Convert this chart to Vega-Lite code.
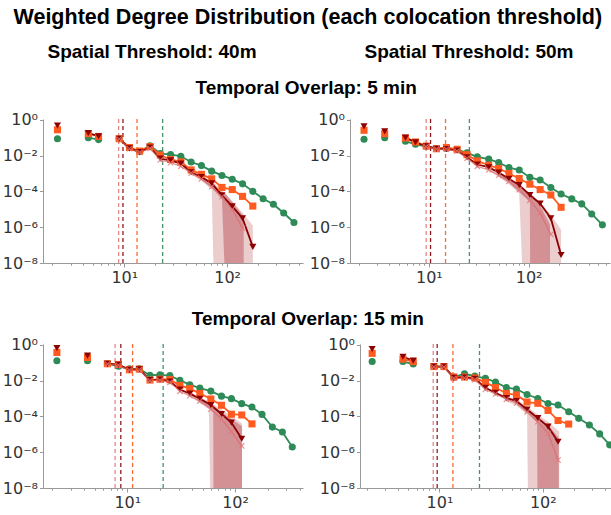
{
"$schema": "https://vega.github.io/schema/vega-lite/v6.json",
"padding": {"left": 2, "top": 6, "right": 0, "bottom": 0},
"title": {"text": "Weighted Degree Distribution (each colocation threshold)", "font": "Liberation Sans", "fontSize": 21.5, "fontWeight": "bold", "color": "#000", "anchor": "middle", "offset": 12},
"config": {
  "view": {"stroke": null},
  "axis": {"labelFont": "DejaVu Sans", "labelFontSize": 16, "labelColor": "#333", "domainColor": "#999", "tickColor": "#999", "grid": false, "labelPadding": 2},
  "title": {"font": "Liberation Sans", "fontSize": 19, "fontWeight": "bold", "color": "#000"}
},
"datasets": {
"pts": [
{"sp":40,"tp":5,"s":"1","x":2.24,"y":0.087},{"sp":40,"tp":5,"s":"1","x":3.55,"y":null},{"sp":40,"tp":5,"s":"1","x":4.47,"y":0.1},{"sp":40,"tp":5,"s":"1","x":5.62,"y":0.0776},{"sp":40,"tp":5,"s":"1","x":7.08,"y":null},{"sp":40,"tp":5,"s":"1","x":8.91,"y":0.087},{"sp":40,"tp":5,"s":"1","x":11.22,"y":0.0282},{"sp":40,"tp":5,"s":"1","x":14.13,"y":0.0166},{"sp":40,"tp":5,"s":"1","x":17.78,"y":0.0355},{"sp":40,"tp":5,"s":"1","x":22.39,"y":0.0129},{"sp":40,"tp":5,"s":"1","x":28.18,"y":0.0115},{"sp":40,"tp":5,"s":"1","x":35.48,"y":0.00912},{"sp":40,"tp":5,"s":"1","x":44.67,"y":0.00437},{"sp":40,"tp":5,"s":"1","x":56.23,"y":0.00275},{"sp":40,"tp":5,"s":"1","x":70.79,"y":0.00135},{"sp":40,"tp":5,"s":"1","x":89.13,"y":0.000776},{"sp":40,"tp":5,"s":"1","x":112.2,"y":0.000479},{"sp":40,"tp":5,"s":"1","x":141.3,"y":0.000263},{"sp":40,"tp":5,"s":"1","x":177.8,"y":0.0001},{"sp":40,"tp":5,"s":"1","x":223.9,"y":3.89e-5},{"sp":40,"tp":5,"s":"1","x":281.8,"y":1.91e-5},{"sp":40,"tp":5,"s":"1","x":354.8,"y":6.17e-6},{"sp":40,"tp":5,"s":"1","x":446.7,"y":1.82e-6},
{"sp":40,"tp":5,"s":"2","x":2.24,"y":0.275},{"sp":40,"tp":5,"s":"2","x":3.55,"y":null},{"sp":40,"tp":5,"s":"2","x":4.47,"y":0.166},{"sp":40,"tp":5,"s":"2","x":5.62,"y":0.117},{"sp":40,"tp":5,"s":"2","x":7.08,"y":null},{"sp":40,"tp":5,"s":"2","x":8.91,"y":0.087},{"sp":40,"tp":5,"s":"2","x":11.22,"y":0.0282},{"sp":40,"tp":5,"s":"2","x":14.13,"y":0.0178},{"sp":40,"tp":5,"s":"2","x":17.78,"y":0.0316},{"sp":40,"tp":5,"s":"2","x":22.39,"y":0.0107},{"sp":40,"tp":5,"s":"2","x":28.18,"y":0.00603},{"sp":40,"tp":5,"s":"2","x":35.48,"y":0.00447},{"sp":40,"tp":5,"s":"2","x":44.67,"y":0.00158},{"sp":40,"tp":5,"s":"2","x":56.23,"y":0.000891},{"sp":40,"tp":5,"s":"2","x":70.79,"y":0.000501},{"sp":40,"tp":5,"s":"2","x":89.13,"y":0.000166},{"sp":40,"tp":5,"s":"2","x":112.2,"y":0.000126},{"sp":40,"tp":5,"s":"2","x":141.3,"y":5.25e-5},{"sp":40,"tp":5,"s":"2","x":177.8,"y":1.51e-5},
{"sp":40,"tp":5,"s":"3","x":2.24,"y":0.479},{"sp":40,"tp":5,"s":"3","x":3.55,"y":null},{"sp":40,"tp":5,"s":"3","x":4.47,"y":0.182},{"sp":40,"tp":5,"s":"3","x":5.62,"y":0.12},{"sp":40,"tp":5,"s":"3","x":7.08,"y":null},{"sp":40,"tp":5,"s":"3","x":8.91,"y":0.087},{"sp":40,"tp":5,"s":"3","x":11.22,"y":0.0251},{"sp":40,"tp":5,"s":"3","x":14.13,"y":0.0158},{"sp":40,"tp":5,"s":"3","x":17.78,"y":0.0282},{"sp":40,"tp":5,"s":"3","x":22.39,"y":0.00676},{"sp":40,"tp":5,"s":"3","x":28.18,"y":0.00537},{"sp":40,"tp":5,"s":"3","x":35.48,"y":0.00355},{"sp":40,"tp":5,"s":"3","x":44.67,"y":0.00117},{"sp":40,"tp":5,"s":"3","x":56.23,"y":0.000631},{"sp":40,"tp":5,"s":"3","x":70.79,"y":0.000282},{"sp":40,"tp":5,"s":"3","x":89.13,"y":6.03e-5},{"sp":40,"tp":5,"s":"3","x":112.2,"y":1.45e-5},{"sp":40,"tp":5,"s":"3","x":141.3,"y":3.16e-6},{"sp":40,"tp":5,"s":"3","x":177.8,"y":7.94e-8},
{"sp":40,"tp":5,"s":"4","x":8.91,"y":0.0832},{"sp":40,"tp":5,"s":"4","x":11.22,"y":0.024},{"sp":40,"tp":5,"s":"4","x":14.13,"y":0.0151},{"sp":40,"tp":5,"s":"4","x":17.78,"y":0.0251},{"sp":40,"tp":5,"s":"4","x":22.39,"y":0.00562},{"sp":40,"tp":5,"s":"4","x":28.18,"y":0.00398},{"sp":40,"tp":5,"s":"4","x":35.48,"y":0.00251},{"sp":40,"tp":5,"s":"4","x":44.67,"y":0.00105},{"sp":40,"tp":5,"s":"4","x":56.23,"y":0.000501},{"sp":40,"tp":5,"s":"4","x":70.79,"y":0.000178},{"sp":40,"tp":5,"s":"4","x":89.13,"y":5.01e-5},{"sp":40,"tp":5,"s":"4","x":112.2,"y":1e-5},{"sp":40,"tp":5,"s":"4","x":141.3,"y":8.91e-7},

{"sp":50,"tp":5,"s":"1","x":2.24,"y":0.0813},{"sp":50,"tp":5,"s":"1","x":2.85,"y":null},{"sp":50,"tp":5,"s":"1","x":3.61,"y":0.1},{"sp":50,"tp":5,"s":"1","x":4.6,"y":null},{"sp":50,"tp":5,"s":"1","x":5.83,"y":0.0631},{"sp":50,"tp":5,"s":"1","x":7.35,"y":0.0427},{"sp":50,"tp":5,"s":"1","x":9.4,"y":0.0331},{"sp":50,"tp":5,"s":"1","x":11.91,"y":0.0245},{"sp":50,"tp":5,"s":"1","x":15.0,"y":0.0245},{"sp":50,"tp":5,"s":"1","x":19.19,"y":0.0214},{"sp":50,"tp":5,"s":"1","x":24.15,"y":0.0141},{"sp":50,"tp":5,"s":"1","x":30.62,"y":0.00851},{"sp":50,"tp":5,"s":"1","x":39.81,"y":0.00631},{"sp":50,"tp":5,"s":"1","x":50.12,"y":0.00407},{"sp":50,"tp":5,"s":"1","x":63.53,"y":0.00214},{"sp":50,"tp":5,"s":"1","x":80.54,"y":0.00155},{"sp":50,"tp":5,"s":"1","x":103.0,"y":0.000603},{"sp":50,"tp":5,"s":"1","x":130.6,"y":0.000427},{"sp":50,"tp":5,"s":"1","x":167.1,"y":0.000166},{"sp":50,"tp":5,"s":"1","x":211.8,"y":7.08e-5},{"sp":50,"tp":5,"s":"1","x":271.0,"y":3.8e-5},{"sp":50,"tp":5,"s":"1","x":341.2,"y":2e-5},{"sp":50,"tp":5,"s":"1","x":429.5,"y":5.5e-6},{"sp":50,"tp":5,"s":"1","x":549.5,"y":1.35e-6},
{"sp":50,"tp":5,"s":"2","x":2.24,"y":0.257},{"sp":50,"tp":5,"s":"2","x":2.85,"y":null},{"sp":50,"tp":5,"s":"2","x":3.61,"y":0.166},{"sp":50,"tp":5,"s":"2","x":4.6,"y":null},{"sp":50,"tp":5,"s":"2","x":5.83,"y":0.0955},{"sp":50,"tp":5,"s":"2","x":7.35,"y":0.0575},{"sp":50,"tp":5,"s":"2","x":9.4,"y":0.0339},{"sp":50,"tp":5,"s":"2","x":11.91,"y":0.024},{"sp":50,"tp":5,"s":"2","x":15.0,"y":0.0282},{"sp":50,"tp":5,"s":"2","x":19.19,"y":0.0224},{"sp":50,"tp":5,"s":"2","x":24.15,"y":0.0112},{"sp":50,"tp":5,"s":"2","x":30.62,"y":0.00501},{"sp":50,"tp":5,"s":"2","x":39.81,"y":0.00288},{"sp":50,"tp":5,"s":"2","x":50.12,"y":0.00191},{"sp":50,"tp":5,"s":"2","x":63.53,"y":0.001},{"sp":50,"tp":5,"s":"2","x":80.54,"y":0.000525},{"sp":50,"tp":5,"s":"2","x":103.0,"y":0.000251},{"sp":50,"tp":5,"s":"2","x":130.6,"y":0.000126},{"sp":50,"tp":5,"s":"2","x":167.1,"y":6.31e-5},{"sp":50,"tp":5,"s":"2","x":211.8,"y":1.29e-5},
{"sp":50,"tp":5,"s":"3","x":2.24,"y":0.427},{"sp":50,"tp":5,"s":"3","x":2.85,"y":null},{"sp":50,"tp":5,"s":"3","x":3.61,"y":0.224},{"sp":50,"tp":5,"s":"3","x":4.6,"y":null},{"sp":50,"tp":5,"s":"3","x":5.83,"y":0.1},{"sp":50,"tp":5,"s":"3","x":7.35,"y":0.055},{"sp":50,"tp":5,"s":"3","x":9.4,"y":0.0331},{"sp":50,"tp":5,"s":"3","x":11.91,"y":0.024},{"sp":50,"tp":5,"s":"3","x":15.0,"y":0.0234},{"sp":50,"tp":5,"s":"3","x":19.19,"y":0.0191},{"sp":50,"tp":5,"s":"3","x":24.15,"y":0.00794},{"sp":50,"tp":5,"s":"3","x":30.62,"y":0.00316},{"sp":50,"tp":5,"s":"3","x":39.81,"y":0.00224},{"sp":50,"tp":5,"s":"3","x":50.12,"y":0.00112},{"sp":50,"tp":5,"s":"3","x":63.53,"y":0.000501},{"sp":50,"tp":5,"s":"3","x":80.54,"y":0.000224},{"sp":50,"tp":5,"s":"3","x":103.0,"y":6.31e-5},{"sp":50,"tp":5,"s":"3","x":130.6,"y":2.09e-5},{"sp":50,"tp":5,"s":"3","x":167.1,"y":3.16e-6},{"sp":50,"tp":5,"s":"3","x":211.8,"y":2.82e-8},
{"sp":50,"tp":5,"s":"4","x":9.4,"y":0.0316},{"sp":50,"tp":5,"s":"4","x":11.91,"y":0.0229},{"sp":50,"tp":5,"s":"4","x":15.0,"y":0.0224},{"sp":50,"tp":5,"s":"4","x":19.19,"y":0.0178},{"sp":50,"tp":5,"s":"4","x":24.15,"y":0.00708},{"sp":50,"tp":5,"s":"4","x":30.62,"y":0.00251},{"sp":50,"tp":5,"s":"4","x":39.81,"y":0.00158},{"sp":50,"tp":5,"s":"4","x":50.12,"y":0.000794},{"sp":50,"tp":5,"s":"4","x":63.53,"y":0.000355},{"sp":50,"tp":5,"s":"4","x":80.54,"y":0.000126},{"sp":50,"tp":5,"s":"4","x":103.0,"y":3.16e-5},{"sp":50,"tp":5,"s":"4","x":130.6,"y":6.31e-6},{"sp":50,"tp":5,"s":"4","x":167.1,"y":3.98e-7},

{"sp":40,"tp":15,"s":"1","x":2.22,"y":0.129},{"sp":40,"tp":15,"s":"1","x":3.0,"y":null},{"sp":40,"tp":15,"s":"1","x":4.27,"y":0.129},{"sp":40,"tp":15,"s":"1","x":5.3,"y":null},{"sp":40,"tp":15,"s":"1","x":6.53,"y":0.087},{"sp":40,"tp":15,"s":"1","x":8.26,"y":0.0631},{"sp":40,"tp":15,"s":"1","x":10.45,"y":0.0447},{"sp":40,"tp":15,"s":"1","x":12.91,"y":0.0447},{"sp":40,"tp":15,"s":"1","x":16.22,"y":0.02},{"sp":40,"tp":15,"s":"1","x":20.09,"y":0.0209},{"sp":40,"tp":15,"s":"1","x":24.83,"y":0.0191},{"sp":40,"tp":15,"s":"1","x":30.76,"y":0.0102},{"sp":40,"tp":15,"s":"1","x":38.02,"y":0.00589},{"sp":40,"tp":15,"s":"1","x":47.1,"y":0.0038},{"sp":40,"tp":15,"s":"1","x":59.57,"y":0.00257},{"sp":40,"tp":15,"s":"1","x":74.82,"y":0.00135},{"sp":40,"tp":15,"s":"1","x":92.47,"y":0.000977},{"sp":40,"tp":15,"s":"1","x":115.3,"y":0.000513},{"sp":40,"tp":15,"s":"1","x":143.5,"y":0.000331},{"sp":40,"tp":15,"s":"1","x":177.8,"y":0.000129},{"sp":40,"tp":15,"s":"1","x":221.8,"y":2.51e-5},{"sp":40,"tp":15,"s":"1","x":274.8,"y":1.35e-5},{"sp":40,"tp":15,"s":"1","x":339.6,"y":1.95e-6},
{"sp":40,"tp":15,"s":"2","x":2.22,"y":0.372},{"sp":40,"tp":15,"s":"2","x":3.0,"y":null},{"sp":40,"tp":15,"s":"2","x":4.27,"y":0.195},{"sp":40,"tp":15,"s":"2","x":5.3,"y":null},{"sp":40,"tp":15,"s":"2","x":6.53,"y":0.087},{"sp":40,"tp":15,"s":"2","x":8.26,"y":0.0794},{"sp":40,"tp":15,"s":"2","x":10.45,"y":0.0398},{"sp":40,"tp":15,"s":"2","x":12.91,"y":0.0437},{"sp":40,"tp":15,"s":"2","x":16.22,"y":0.0107},{"sp":40,"tp":15,"s":"2","x":20.09,"y":0.012},{"sp":40,"tp":15,"s":"2","x":24.83,"y":0.0112},{"sp":40,"tp":15,"s":"2","x":30.76,"y":0.00537},{"sp":40,"tp":15,"s":"2","x":38.02,"y":0.00355},{"sp":40,"tp":15,"s":"2","x":47.1,"y":0.00191},{"sp":40,"tp":15,"s":"2","x":59.57,"y":0.000933},{"sp":40,"tp":15,"s":"2","x":74.82,"y":0.000417},{"sp":40,"tp":15,"s":"2","x":92.47,"y":0.000132},{"sp":40,"tp":15,"s":"2","x":115.3,"y":0.00012},{"sp":40,"tp":15,"s":"2","x":143.5,"y":3.8e-5},
{"sp":40,"tp":15,"s":"3","x":2.22,"y":0.646},{"sp":40,"tp":15,"s":"3","x":3.0,"y":null},{"sp":40,"tp":15,"s":"3","x":4.27,"y":0.245},{"sp":40,"tp":15,"s":"3","x":5.3,"y":null},{"sp":40,"tp":15,"s":"3","x":6.53,"y":0.087},{"sp":40,"tp":15,"s":"3","x":8.26,"y":0.0759},{"sp":40,"tp":15,"s":"3","x":10.45,"y":0.0398},{"sp":40,"tp":15,"s":"3","x":12.91,"y":0.0427},{"sp":40,"tp":15,"s":"3","x":16.22,"y":0.0105},{"sp":40,"tp":15,"s":"3","x":20.09,"y":0.0112},{"sp":40,"tp":15,"s":"3","x":24.83,"y":0.00891},{"sp":40,"tp":15,"s":"3","x":30.76,"y":0.00316},{"sp":40,"tp":15,"s":"3","x":38.02,"y":0.00186},{"sp":40,"tp":15,"s":"3","x":47.1,"y":0.000955},{"sp":40,"tp":15,"s":"3","x":59.57,"y":0.000427},{"sp":40,"tp":15,"s":"3","x":74.82,"y":0.000135},{"sp":40,"tp":15,"s":"3","x":92.47,"y":4.47e-5},{"sp":40,"tp":15,"s":"3","x":115.3,"y":5.62e-6},
{"sp":40,"tp":15,"s":"4","x":6.53,"y":0.0832},{"sp":40,"tp":15,"s":"4","x":8.26,"y":0.0708},{"sp":40,"tp":15,"s":"4","x":10.45,"y":0.038},{"sp":40,"tp":15,"s":"4","x":12.91,"y":0.0398},{"sp":40,"tp":15,"s":"4","x":16.22,"y":0.01},{"sp":40,"tp":15,"s":"4","x":20.09,"y":0.0105},{"sp":40,"tp":15,"s":"4","x":24.83,"y":0.00794},{"sp":40,"tp":15,"s":"4","x":30.76,"y":0.00251},{"sp":40,"tp":15,"s":"4","x":38.02,"y":0.00141},{"sp":40,"tp":15,"s":"4","x":47.1,"y":0.000708},{"sp":40,"tp":15,"s":"4","x":59.57,"y":0.000251},{"sp":40,"tp":15,"s":"4","x":74.82,"y":7.08e-5},{"sp":40,"tp":15,"s":"4","x":92.47,"y":1.41e-5},{"sp":40,"tp":15,"s":"4","x":115.3,"y":2.24e-6},

{"sp":50,"tp":15,"s":"1","x":2.23,"y":0.115},{"sp":50,"tp":15,"s":"1","x":3.1,"y":null},{"sp":50,"tp":15,"s":"1","x":4.43,"y":0.115},{"sp":50,"tp":15,"s":"1","x":5.57,"y":0.0832},{"sp":50,"tp":15,"s":"1","x":7.0,"y":null},{"sp":50,"tp":15,"s":"1","x":8.83,"y":0.0603},{"sp":50,"tp":15,"s":"1","x":11.04,"y":0.0603},{"sp":50,"tp":15,"s":"1","x":13.77,"y":0.0158},{"sp":50,"tp":15,"s":"1","x":17.46,"y":0.024},{"sp":50,"tp":15,"s":"1","x":21.98,"y":0.0178},{"sp":50,"tp":15,"s":"1","x":27.86,"y":0.0132},{"sp":50,"tp":15,"s":"1","x":34.83,"y":0.00832},{"sp":50,"tp":15,"s":"1","x":44.46,"y":0.00407},{"sp":50,"tp":15,"s":"1","x":55.59,"y":0.00331},{"sp":50,"tp":15,"s":"1","x":70.47,"y":0.00166},{"sp":50,"tp":15,"s":"1","x":89.54,"y":0.001},{"sp":50,"tp":15,"s":"1","x":112.5,"y":0.000525},{"sp":50,"tp":15,"s":"1","x":140.6,"y":0.000427},{"sp":50,"tp":15,"s":"1","x":178.2,"y":0.000182},{"sp":50,"tp":15,"s":"1","x":222.8,"y":7.76e-5},{"sp":50,"tp":15,"s":"1","x":282.5,"y":3.31e-5},{"sp":50,"tp":15,"s":"1","x":355.6,"y":1.05e-5},{"sp":50,"tp":15,"s":"1","x":444.6,"y":2.57e-6},
{"sp":50,"tp":15,"s":"2","x":2.23,"y":0.331},{"sp":50,"tp":15,"s":"2","x":3.1,"y":null},{"sp":50,"tp":15,"s":"2","x":4.43,"y":0.158},{"sp":50,"tp":15,"s":"2","x":5.57,"y":0.115},{"sp":50,"tp":15,"s":"2","x":7.0,"y":null},{"sp":50,"tp":15,"s":"2","x":8.83,"y":0.0603},{"sp":50,"tp":15,"s":"2","x":11.04,"y":0.0603},{"sp":50,"tp":15,"s":"2","x":13.77,"y":0.0158},{"sp":50,"tp":15,"s":"2","x":17.46,"y":0.0158},{"sp":50,"tp":15,"s":"2","x":21.98,"y":0.0141},{"sp":50,"tp":15,"s":"2","x":27.86,"y":0.00794},{"sp":50,"tp":15,"s":"2","x":34.83,"y":0.00407},{"sp":50,"tp":15,"s":"2","x":44.46,"y":0.00191},{"sp":50,"tp":15,"s":"2","x":55.59,"y":0.00158},{"sp":50,"tp":15,"s":"2","x":70.47,"y":0.000631},{"sp":50,"tp":15,"s":"2","x":89.54,"y":0.000537},{"sp":50,"tp":15,"s":"2","x":112.5,"y":0.000214},{"sp":50,"tp":15,"s":"2","x":140.6,"y":5.89e-5},{"sp":50,"tp":15,"s":"2","x":178.2,"y":3.72e-5},
{"sp":50,"tp":15,"s":"3","x":2.23,"y":0.575},{"sp":50,"tp":15,"s":"3","x":3.1,"y":null},{"sp":50,"tp":15,"s":"3","x":4.43,"y":0.214},{"sp":50,"tp":15,"s":"3","x":5.57,"y":0.129},{"sp":50,"tp":15,"s":"3","x":7.0,"y":null},{"sp":50,"tp":15,"s":"3","x":8.83,"y":0.0603},{"sp":50,"tp":15,"s":"3","x":11.04,"y":0.0603},{"sp":50,"tp":15,"s":"3","x":13.77,"y":0.0141},{"sp":50,"tp":15,"s":"3","x":17.46,"y":0.0148},{"sp":50,"tp":15,"s":"3","x":21.98,"y":0.0126},{"sp":50,"tp":15,"s":"3","x":27.86,"y":0.00398},{"sp":50,"tp":15,"s":"3","x":34.83,"y":0.00209},{"sp":50,"tp":15,"s":"3","x":44.46,"y":0.00105},{"sp":50,"tp":15,"s":"3","x":55.59,"y":0.000724},{"sp":50,"tp":15,"s":"3","x":70.47,"y":0.00024},{"sp":50,"tp":15,"s":"3","x":89.54,"y":7.94e-5},{"sp":50,"tp":15,"s":"3","x":112.5,"y":2.69e-5},{"sp":50,"tp":15,"s":"3","x":140.6,"y":3.8e-6},
{"sp":50,"tp":15,"s":"4","x":8.83,"y":0.0575},{"sp":50,"tp":15,"s":"4","x":11.04,"y":0.0575},{"sp":50,"tp":15,"s":"4","x":13.77,"y":0.0132},{"sp":50,"tp":15,"s":"4","x":17.46,"y":0.0138},{"sp":50,"tp":15,"s":"4","x":21.98,"y":0.0112},{"sp":50,"tp":15,"s":"4","x":27.86,"y":0.00316},{"sp":50,"tp":15,"s":"4","x":34.83,"y":0.00178},{"sp":50,"tp":15,"s":"4","x":44.46,"y":0.000891},{"sp":50,"tp":15,"s":"4","x":55.59,"y":0.000562},{"sp":50,"tp":15,"s":"4","x":70.47,"y":0.000178},{"sp":50,"tp":15,"s":"4","x":89.54,"y":5.01e-5},{"sp":50,"tp":15,"s":"4","x":112.5,"y":1.12e-5},{"sp":50,"tp":15,"s":"4","x":140.6,"y":3.63e-7}
],
"bands": [
{"sp":40,"tp":5,"b":"outer","x":44.67,"lo":0.000891,"hi":0.00141},{"sp":40,"tp":5,"b":"outer","x":56.23,"lo":0.000398,"hi":0.000759},{"sp":40,"tp":5,"b":"outer","x":70.79,"lo":0.000126,"hi":0.000355},{"sp":40,"tp":5,"b":"outer","x":75,"lo":1e-10,"hi":0.000282},{"sp":40,"tp":5,"b":"outer","x":89.13,"lo":1e-10,"hi":0.000117},{"sp":40,"tp":5,"b":"outer","x":112.2,"lo":1e-10,"hi":2.82e-5},{"sp":40,"tp":5,"b":"outer","x":141.3,"lo":1e-10,"hi":6.31e-6},{"sp":40,"tp":5,"b":"outer","x":177.8,"lo":1e-10,"hi":1.26e-6},
{"sp":40,"tp":5,"b":"inner","x":56.23,"lo":0.000447,"hi":0.000631},{"sp":40,"tp":5,"b":"inner","x":70.79,"lo":0.000158,"hi":0.000282},{"sp":40,"tp":5,"b":"inner","x":89.13,"lo":3.55e-5,"hi":8.91e-5},{"sp":40,"tp":5,"b":"inner","x":97,"lo":1e-10,"hi":7.08e-5},{"sp":40,"tp":5,"b":"inner","x":112.2,"lo":1e-10,"hi":2.51e-5},{"sp":40,"tp":5,"b":"inner","x":145,"lo":1e-10,"hi":3.98e-6},
{"sp":50,"tp":5,"b":"outer","x":39.81,"lo":0.00141,"hi":0.00251},{"sp":50,"tp":5,"b":"outer","x":50.12,"lo":0.000631,"hi":0.00126},{"sp":50,"tp":5,"b":"outer","x":63.53,"lo":0.000251,"hi":0.000562},{"sp":50,"tp":5,"b":"outer","x":80.54,"lo":7.94e-5,"hi":0.000251},{"sp":50,"tp":5,"b":"outer","x":89,"lo":1e-10,"hi":0.000141},{"sp":50,"tp":5,"b":"outer","x":103.0,"lo":1e-10,"hi":7.94e-5},{"sp":50,"tp":5,"b":"outer","x":130.6,"lo":1e-10,"hi":2.51e-5},{"sp":50,"tp":5,"b":"outer","x":167.1,"lo":1e-10,"hi":5.01e-6},{"sp":50,"tp":5,"b":"outer","x":211.8,"lo":1e-10,"hi":7.08e-7},
{"sp":50,"tp":5,"b":"inner","x":50.12,"lo":0.000708,"hi":0.00112},{"sp":50,"tp":5,"b":"inner","x":63.53,"lo":0.000316,"hi":0.000501},{"sp":50,"tp":5,"b":"inner","x":80.54,"lo":8.91e-5,"hi":0.0002},{"sp":50,"tp":5,"b":"inner","x":103.0,"lo":2.51e-5,"hi":7.94e-5},{"sp":50,"tp":5,"b":"inner","x":104,"lo":1e-10,"hi":7.59e-5},{"sp":50,"tp":5,"b":"inner","x":130.6,"lo":1e-10,"hi":1.58e-5},{"sp":50,"tp":5,"b":"inner","x":164,"lo":1e-10,"hi":1.41e-6},
{"sp":40,"tp":15,"b":"outer","x":38.02,"lo":0.00126,"hi":0.00224},{"sp":40,"tp":15,"b":"outer","x":47.1,"lo":0.000562,"hi":0.00126},{"sp":40,"tp":15,"b":"outer","x":57.1,"lo":0.000251,"hi":0.000631},{"sp":40,"tp":15,"b":"outer","x":59.57,"lo":1e-10,"hi":0.000562},{"sp":40,"tp":15,"b":"outer","x":74.82,"lo":1e-10,"hi":0.000251},{"sp":40,"tp":15,"b":"outer","x":92.47,"lo":1e-10,"hi":0.0001},{"sp":40,"tp":15,"b":"outer","x":116,"lo":1e-10,"hi":3.98e-5},
{"sp":40,"tp":15,"b":"inner","x":47.1,"lo":0.000708,"hi":0.00112},{"sp":40,"tp":15,"b":"inner","x":62.7,"lo":0.0002,"hi":0.000447},{"sp":40,"tp":15,"b":"inner","x":63.1,"lo":1e-10,"hi":0.000398},{"sp":40,"tp":15,"b":"inner","x":74.82,"lo":1e-10,"hi":0.000178},{"sp":40,"tp":15,"b":"inner","x":92.47,"lo":1e-10,"hi":7.08e-5},{"sp":40,"tp":15,"b":"inner","x":116,"lo":1e-10,"hi":2.82e-5},
{"sp":50,"tp":15,"b":"outer","x":44.46,"lo":0.000708,"hi":0.00126},{"sp":50,"tp":15,"b":"outer","x":55.59,"lo":0.000398,"hi":0.000891},{"sp":50,"tp":15,"b":"outer","x":70.47,"lo":0.000126,"hi":0.000355},{"sp":50,"tp":15,"b":"outer","x":72.4,"lo":1e-10,"hi":0.000316},{"sp":50,"tp":15,"b":"outer","x":89.54,"lo":1e-10,"hi":0.000126},{"sp":50,"tp":15,"b":"outer","x":112.5,"lo":1e-10,"hi":5.01e-5},{"sp":50,"tp":15,"b":"outer","x":144.5,"lo":1e-10,"hi":1.41e-5},
{"sp":50,"tp":15,"b":"inner","x":55.59,"lo":0.000501,"hi":0.000708},{"sp":50,"tp":15,"b":"inner","x":70.47,"lo":0.000158,"hi":0.000282},{"sp":50,"tp":15,"b":"inner","x":88.1,"lo":4.47e-5,"hi":0.0001},{"sp":50,"tp":15,"b":"inner","x":89.1,"lo":1e-10,"hi":0.0001},{"sp":50,"tp":15,"b":"inner","x":112.5,"lo":1e-10,"hi":3.16e-5},{"sp":50,"tp":15,"b":"inner","x":143,"lo":1e-10,"hi":6.31e-6}
],
"vlines": [
{"sp":40,"tp":5,"s":"4","x":8.81},{"sp":40,"tp":5,"s":"3","x":9.71},{"sp":40,"tp":5,"s":"2","x":13.3},{"sp":40,"tp":5,"s":"1","x":23.6},
{"sp":50,"tp":5,"s":"4","x":9.4},{"sp":50,"tp":5,"s":"3","x":10.4},{"sp":50,"tp":5,"s":"2","x":14.7},{"sp":50,"tp":5,"s":"1","x":25.5},
{"sp":40,"tp":15,"s":"4","x":7.7},{"sp":40,"tp":15,"s":"3","x":8.7},{"sp":40,"tp":15,"s":"2","x":11.2},{"sp":40,"tp":15,"s":"1","x":21.5},
{"sp":50,"tp":15,"s":"4","x":8.7},{"sp":50,"tp":15,"s":"3","x":9.5},{"sp":50,"tp":15,"s":"2","x":13.5},{"sp":50,"tp":15,"s":"1","x":24.4}
]
},
"spacing": 14,
"vconcat": [
{
  "width": 535, "height": 24,
  "data": {"values": [{"h": "Spatial Threshold: 40m"}, {"h": "Spatial Threshold: 50m"}]},
  "mark": {"type": "text", "font": "Liberation Sans", "fontSize": 19, "fontWeight": "bold", "color": "#000"},
  "encoding": {
    "x": {"field": "h", "type": "ordinal", "scale": {"type": "point", "padding": 0.344}, "axis": null},
    "text": {"field": "h"}
  }
},
{
"spacing": 24,
"vconcat": [
{
  "title": {"text": "Temporal Overlap: 5 min", "anchor": "middle", "offset": 14},
  "spacing": 6,
  "hconcat": [
  {
    "width": 260, "height": 144,
    "layer": [
      {"data": {"name": "bands"}, "transform": [{"filter": "datum.sp==40 && datum.tp==5 && datum.b=='outer'"}],
       "mark": {"type": "area", "color": "#b84a50", "opacity": 0.28, "clip": true},
       "encoding": {
         "x": {"field": "x", "type": "quantitative", "title": null, "scale": {"type": "log", "domain": [1.62, 547], "nice": false},
               "axis": {"values": [2,3,4,5,6,7,8,9,10,20,30,40,50,60,70,80,90,100,200,300,400,500], "labelExpr": "datum.value==10?'10¹':datum.value==100?'10²':''", "labelOverlap": false, "labelFlush": false, "tickSize": {"condition": {"test": "datum.value==10||datum.value==100", "value": 4}, "value": 2.2}}},
         "y": {"field": "lo", "type": "quantitative", "title": null, "scale": {"type": "log", "domain": [1e-8, 1.1], "nice": false},
               "axis": {"values": [1e-8, 1e-6, 1e-4, 1e-2, 1], "labelExpr": "datum.value>0.5?'10⁰':datum.value>0.005?'10⁻²':datum.value>0.00005?'10⁻⁴':datum.value>5e-7?'10⁻⁶':'10⁻⁸'", "tickSize": 3.5, "labelOverlap": false}},
         "y2": {"field": "hi"}}},
      {"data": {"name": "bands"}, "transform": [{"filter": "datum.sp==40 && datum.tp==5 && datum.b=='inner'"}],
       "mark": {"type": "area", "color": "#b84a50", "opacity": 0.45, "clip": true},
       "encoding": {"x": {"field": "x", "type": "quantitative", "title": null}, "y": {"field": "lo", "type": "quantitative", "title": null}, "y2": {"field": "hi"}}},
      {"data": {"name": "vlines"}, "transform": [{"filter": "datum.sp==40 && datum.tp==5"}],
       "mark": {"type": "rule", "strokeDash": [4, 3], "strokeWidth": 1.3, "opacity": 0.9},
       "encoding": {"x": {"field": "x", "type": "quantitative", "title": null}, "color": {"field": "s", "type": "nominal", "legend": null, "scale": {"domain": ["1","2","3","4"], "range": ["#2e8b57","#ff5a1f","#8b0000","#e07b7b"]}}}},
      {"data": {"name": "pts"}, "transform": [{"filter": "datum.sp==40 && datum.tp==5 && datum.s!='4'"}],
       "mark": {"type": "line", "strokeWidth": 1.8},
       "encoding": {"x": {"field": "x", "type": "quantitative", "title": null}, "y": {"field": "y", "type": "quantitative", "title": null}, "color": {"field": "s", "type": "nominal", "legend": null}}},
      {"data": {"name": "pts"}, "transform": [{"filter": "datum.sp==40 && datum.tp==5 && datum.s=='4'"}],
       "mark": {"type": "line", "strokeWidth": 1.3, "color": "#d9686c", "opacity": 0.7},
       "encoding": {"x": {"field": "x", "type": "quantitative", "title": null}, "y": {"field": "y", "type": "quantitative", "title": null}}},
      {"data": {"name": "pts"}, "transform": [{"filter": "datum.sp==40 && datum.tp==5 && datum.s!='4'"}],
       "mark": {"type": "point", "filled": true, "size": 50, "opacity": 1},
       "encoding": {"x": {"field": "x", "type": "quantitative", "title": null}, "y": {"field": "y", "type": "quantitative", "title": null}, "color": {"field": "s", "type": "nominal", "legend": null}, "shape": {"field": "s", "type": "nominal", "legend": null, "scale": {"domain": ["1","2","3"], "range": ["circle","square","triangle-down"]}}}},
      {"data": {"name": "pts"}, "transform": [{"filter": "datum.sp==40 && datum.tp==5 && datum.s=='4'"}],
       "mark": {"type": "point", "shape": "M-1,-1L1,1M1,-1L-1,1", "filled": false, "size": 28, "strokeWidth": 1.2, "color": "#e07b7b", "opacity": 0.8},
       "encoding": {"x": {"field": "x", "type": "quantitative", "title": null}, "y": {"field": "y", "type": "quantitative", "title": null}}}
    ]
  },
  {
    "width": 260, "height": 144,
    "layer": [
      {"data": {"name": "bands"}, "transform": [{"filter": "datum.sp==50 && datum.tp==5 && datum.b=='outer'"}],
       "mark": {"type": "area", "color": "#b84a50", "opacity": 0.28, "clip": true},
       "encoding": {
         "x": {"field": "x", "type": "quantitative", "title": null, "scale": {"type": "log", "domain": [1.62, 655], "nice": false},
               "axis": {"values": [2,3,4,5,6,7,8,9,10,20,30,40,50,60,70,80,90,100,200,300,400,500,600], "labelExpr": "datum.value==10?'10¹':datum.value==100?'10²':''", "labelOverlap": false, "labelFlush": false, "tickSize": {"condition": {"test": "datum.value==10||datum.value==100", "value": 4}, "value": 2.2}}},
         "y": {"field": "lo", "type": "quantitative", "title": null, "scale": {"type": "log", "domain": [1e-8, 1.1], "nice": false},
               "axis": {"values": [1e-8, 1e-6, 1e-4, 1e-2, 1], "labelExpr": "datum.value>0.5?'10⁰':datum.value>0.005?'10⁻²':datum.value>0.00005?'10⁻⁴':datum.value>5e-7?'10⁻⁶':'10⁻⁸'", "tickSize": 3.5, "labelOverlap": false}},
         "y2": {"field": "hi"}}},
      {"data": {"name": "bands"}, "transform": [{"filter": "datum.sp==50 && datum.tp==5 && datum.b=='inner'"}],
       "mark": {"type": "area", "color": "#b84a50", "opacity": 0.45, "clip": true},
       "encoding": {"x": {"field": "x", "type": "quantitative", "title": null}, "y": {"field": "lo", "type": "quantitative", "title": null}, "y2": {"field": "hi"}}},
      {"data": {"name": "vlines"}, "transform": [{"filter": "datum.sp==50 && datum.tp==5"}],
       "mark": {"type": "rule", "strokeDash": [4, 3], "strokeWidth": 1.3, "opacity": 0.9},
       "encoding": {"x": {"field": "x", "type": "quantitative", "title": null}, "color": {"field": "s", "type": "nominal", "legend": null, "scale": {"domain": ["1","2","3","4"], "range": ["#2e8b57","#ff5a1f","#8b0000","#e07b7b"]}}}},
      {"data": {"name": "pts"}, "transform": [{"filter": "datum.sp==50 && datum.tp==5 && datum.s!='4'"}],
       "mark": {"type": "line", "strokeWidth": 1.8},
       "encoding": {"x": {"field": "x", "type": "quantitative", "title": null}, "y": {"field": "y", "type": "quantitative", "title": null}, "color": {"field": "s", "type": "nominal", "legend": null}}},
      {"data": {"name": "pts"}, "transform": [{"filter": "datum.sp==50 && datum.tp==5 && datum.s=='4'"}],
       "mark": {"type": "line", "strokeWidth": 1.3, "color": "#d9686c", "opacity": 0.7},
       "encoding": {"x": {"field": "x", "type": "quantitative", "title": null}, "y": {"field": "y", "type": "quantitative", "title": null}}},
      {"data": {"name": "pts"}, "transform": [{"filter": "datum.sp==50 && datum.tp==5 && datum.s!='4'"}],
       "mark": {"type": "point", "filled": true, "size": 50, "opacity": 1},
       "encoding": {"x": {"field": "x", "type": "quantitative", "title": null}, "y": {"field": "y", "type": "quantitative", "title": null}, "color": {"field": "s", "type": "nominal", "legend": null}, "shape": {"field": "s", "type": "nominal", "legend": null, "scale": {"domain": ["1","2","3"], "range": ["circle","square","triangle-down"]}}}},
      {"data": {"name": "pts"}, "transform": [{"filter": "datum.sp==50 && datum.tp==5 && datum.s=='4'"}],
       "mark": {"type": "point", "shape": "M-1,-1L1,1M1,-1L-1,1", "filled": false, "size": 28, "strokeWidth": 1.2, "color": "#e07b7b", "opacity": 0.8},
       "encoding": {"x": {"field": "x", "type": "quantitative", "title": null}, "y": {"field": "y", "type": "quantitative", "title": null}}}
    ]
  }
  ]
},
{
  "title": {"text": "Temporal Overlap: 15 min", "anchor": "middle", "offset": 8},
  "spacing": 16,
  "hconcat": [
  {
    "width": 260, "height": 144,
    "layer": [
      {"data": {"name": "bands"}, "transform": [{"filter": "datum.sp==40 && datum.tp==15 && datum.b=='outer'"}],
       "mark": {"type": "area", "color": "#b84a50", "opacity": 0.28, "clip": true},
       "encoding": {
         "x": {"field": "x", "type": "quantitative", "title": null, "scale": {"type": "log", "domain": [1.65, 427], "nice": false},
               "axis": {"values": [2,3,4,5,6,7,8,9,10,20,30,40,50,60,70,80,90,100,200,300,400], "labelExpr": "datum.value==10?'10¹':datum.value==100?'10²':''", "labelOverlap": false, "labelFlush": false, "tickSize": {"condition": {"test": "datum.value==10||datum.value==100", "value": 4}, "value": 2.2}}},
         "y": {"field": "lo", "type": "quantitative", "title": null, "scale": {"type": "log", "domain": [1e-8, 1.1], "nice": false},
               "axis": {"values": [1e-8, 1e-6, 1e-4, 1e-2, 1], "labelExpr": "datum.value>0.5?'10⁰':datum.value>0.005?'10⁻²':datum.value>0.00005?'10⁻⁴':datum.value>5e-7?'10⁻⁶':'10⁻⁸'", "tickSize": 3.5, "labelOverlap": false}},
         "y2": {"field": "hi"}}},
      {"data": {"name": "bands"}, "transform": [{"filter": "datum.sp==40 && datum.tp==15 && datum.b=='inner'"}],
       "mark": {"type": "area", "color": "#b84a50", "opacity": 0.45, "clip": true},
       "encoding": {"x": {"field": "x", "type": "quantitative", "title": null}, "y": {"field": "lo", "type": "quantitative", "title": null}, "y2": {"field": "hi"}}},
      {"data": {"name": "vlines"}, "transform": [{"filter": "datum.sp==40 && datum.tp==15"}],
       "mark": {"type": "rule", "strokeDash": [4, 3], "strokeWidth": 1.3, "opacity": 0.9},
       "encoding": {"x": {"field": "x", "type": "quantitative", "title": null}, "color": {"field": "s", "type": "nominal", "legend": null, "scale": {"domain": ["1","2","3","4"], "range": ["#2e8b57","#ff5a1f","#8b0000","#e07b7b"]}}}},
      {"data": {"name": "pts"}, "transform": [{"filter": "datum.sp==40 && datum.tp==15 && datum.s!='4'"}],
       "mark": {"type": "line", "strokeWidth": 1.8},
       "encoding": {"x": {"field": "x", "type": "quantitative", "title": null}, "y": {"field": "y", "type": "quantitative", "title": null}, "color": {"field": "s", "type": "nominal", "legend": null}}},
      {"data": {"name": "pts"}, "transform": [{"filter": "datum.sp==40 && datum.tp==15 && datum.s=='4'"}],
       "mark": {"type": "line", "strokeWidth": 1.3, "color": "#d9686c", "opacity": 0.7},
       "encoding": {"x": {"field": "x", "type": "quantitative", "title": null}, "y": {"field": "y", "type": "quantitative", "title": null}}},
      {"data": {"name": "pts"}, "transform": [{"filter": "datum.sp==40 && datum.tp==15 && datum.s!='4'"}],
       "mark": {"type": "point", "filled": true, "size": 50, "opacity": 1},
       "encoding": {"x": {"field": "x", "type": "quantitative", "title": null}, "y": {"field": "y", "type": "quantitative", "title": null}, "color": {"field": "s", "type": "nominal", "legend": null}, "shape": {"field": "s", "type": "nominal", "legend": null, "scale": {"domain": ["1","2","3"], "range": ["circle","square","triangle-down"]}}}},
      {"data": {"name": "pts"}, "transform": [{"filter": "datum.sp==40 && datum.tp==15 && datum.s=='4'"}],
       "mark": {"type": "point", "shape": "M-1,-1L1,1M1,-1L-1,1", "filled": false, "size": 28, "strokeWidth": 1.2, "color": "#e07b7b", "opacity": 0.8},
       "encoding": {"x": {"field": "x", "type": "quantitative", "title": null}, "y": {"field": "y", "type": "quantitative", "title": null}}}
    ]
  },
  {
    "width": 252, "height": 144,
    "layer": [
      {"data": {"name": "bands"}, "transform": [{"filter": "datum.sp==50 && datum.tp==15 && datum.b=='outer'"}],
       "mark": {"type": "area", "color": "#b84a50", "opacity": 0.28, "clip": true},
       "encoding": {
         "x": {"field": "x", "type": "quantitative", "title": null, "scale": {"type": "log", "domain": [1.70, 468], "nice": false},
               "axis": {"values": [2,3,4,5,6,7,8,9,10,20,30,40,50,60,70,80,90,100,200,300,400], "labelExpr": "datum.value==10?'10¹':datum.value==100?'10²':''", "labelOverlap": false, "labelFlush": false, "tickSize": {"condition": {"test": "datum.value==10||datum.value==100", "value": 4}, "value": 2.2}}},
         "y": {"field": "lo", "type": "quantitative", "title": null, "scale": {"type": "log", "domain": [1e-8, 1.1], "nice": false},
               "axis": {"values": [1e-8, 1e-6, 1e-4, 1e-2, 1], "labelExpr": "datum.value>0.5?'10⁰':datum.value>0.005?'10⁻²':datum.value>0.00005?'10⁻⁴':datum.value>5e-7?'10⁻⁶':'10⁻⁸'", "tickSize": 3.5, "labelOverlap": false}},
         "y2": {"field": "hi"}}},
      {"data": {"name": "bands"}, "transform": [{"filter": "datum.sp==50 && datum.tp==15 && datum.b=='inner'"}],
       "mark": {"type": "area", "color": "#b84a50", "opacity": 0.45, "clip": true},
       "encoding": {"x": {"field": "x", "type": "quantitative", "title": null}, "y": {"field": "lo", "type": "quantitative", "title": null}, "y2": {"field": "hi"}}},
      {"data": {"name": "vlines"}, "transform": [{"filter": "datum.sp==50 && datum.tp==15"}],
       "mark": {"type": "rule", "strokeDash": [4, 3], "strokeWidth": 1.3, "opacity": 0.9},
       "encoding": {"x": {"field": "x", "type": "quantitative", "title": null}, "color": {"field": "s", "type": "nominal", "legend": null, "scale": {"domain": ["1","2","3","4"], "range": ["#2e8b57","#ff5a1f","#8b0000","#e07b7b"]}}}},
      {"data": {"name": "pts"}, "transform": [{"filter": "datum.sp==50 && datum.tp==15 && datum.s!='4'"}],
       "mark": {"type": "line", "strokeWidth": 1.8},
       "encoding": {"x": {"field": "x", "type": "quantitative", "title": null}, "y": {"field": "y", "type": "quantitative", "title": null}, "color": {"field": "s", "type": "nominal", "legend": null}}},
      {"data": {"name": "pts"}, "transform": [{"filter": "datum.sp==50 && datum.tp==15 && datum.s=='4'"}],
       "mark": {"type": "line", "strokeWidth": 1.3, "color": "#d9686c", "opacity": 0.7},
       "encoding": {"x": {"field": "x", "type": "quantitative", "title": null}, "y": {"field": "y", "type": "quantitative", "title": null}}},
      {"data": {"name": "pts"}, "transform": [{"filter": "datum.sp==50 && datum.tp==15 && datum.s!='4'"}],
       "mark": {"type": "point", "filled": true, "size": 50, "opacity": 1},
       "encoding": {"x": {"field": "x", "type": "quantitative", "title": null}, "y": {"field": "y", "type": "quantitative", "title": null}, "color": {"field": "s", "type": "nominal", "legend": null}, "shape": {"field": "s", "type": "nominal", "legend": null, "scale": {"domain": ["1","2","3"], "range": ["circle","square","triangle-down"]}}}},
      {"data": {"name": "pts"}, "transform": [{"filter": "datum.sp==50 && datum.tp==15 && datum.s=='4'"}],
       "mark": {"type": "point", "shape": "M-1,-1L1,1M1,-1L-1,1", "filled": false, "size": 28, "strokeWidth": 1.2, "color": "#e07b7b", "opacity": 0.8},
       "encoding": {"x": {"field": "x", "type": "quantitative", "title": null}, "y": {"field": "y", "type": "quantitative", "title": null}}}
    ]
  }
  ]
}
]
}
]
}
